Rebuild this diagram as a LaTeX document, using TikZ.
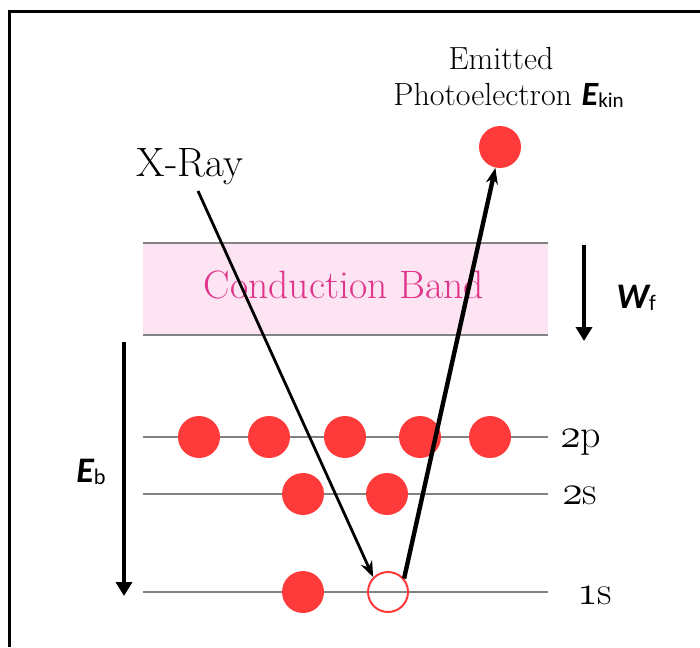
\documentclass[tikz,border=0pt]{standalone}
\usepackage{fontspec}
\usetikzlibrary{arrows.meta}
\newfontfamily\symfont{Carlito}
\definecolor{bandpink}{HTML}{FDE4F2}
\definecolor{bandtext}{HTML}{E0358B}
\definecolor{elred}{HTML}{FF3A3A}
\definecolor{levelgray}{HTML}{828282}
\newcommand{\osf}[1]{{\usefont{OML}{cmm}{m}{it}#1}}
\newcommand{\enlabel}[2]{{\symfont\bfseries\itshape #1}\raisebox{-0.08em}{\symfont\scalebox{0.62}{#2}}}

\begin{document}
\begin{tikzpicture}[
  x=0.5pt, y=-0.5pt,
  level/.style={draw=levelgray, line width=1pt},
  elec/.style={circle, fill=elred, minimum size=21pt, inner sep=0pt},
  holestyle/.style={circle, draw=elred, line width=1pt, minimum size=20pt, inner sep=0pt},
  lvl/.style={anchor=base west, inner sep=0pt, font=\fontsize{20}{20}\selectfont},
  txt/.style={anchor=base, inner sep=0pt},
  sym/.style={anchor=base west, inner sep=0pt},
  ray/.style={-{Stealth[length=8pt,width=6pt]}, line width=1.4pt},
  photo/.style={-{Stealth[length=8pt,width=6pt]}, line width=2.2pt},
  energy/.style={-{Triangle[length=7pt,width=8pt]}, line width=2pt}
]
\useasboundingbox (0,0) rectangle (700,647);
% frame
\draw[line width=1.5pt, line join=miter] (9,647) -- (9,12) -- (700,12);

% conduction band
\fill[bandpink] (143,243) rectangle (548,335);
\draw[level] (143,243) -- (548,243);
\draw[level] (143,335) -- (548,335);
\node[txt, text=bandtext, font=\fontsize{19.8}{19.8}\selectfont] (band) at (344,298) {Conduction Band};

% levels
\foreach \y in {437,494,592}
  \draw[level] (143,\y) -- (548,\y);
\node[lvl] (l2p) at (560,447) {\osf{2}p};
\node[lvl] (l2s) at (562,504) {\osf{2}s};
\node[lvl] (l1s) at (577,604) {\osf{1}s};

% electrons
\foreach \x [count=\i] in {199,269,345,420,490}
  \node[elec] (p\i) at (\x,437) {};
\node[elec] (s1) at (303,494) {};
\node[elec] (s2) at (387,494) {};
\node[elec] (k1) at (303,592) {};
\node[holestyle] (hole) at (388,592) {};
\node[elec] (emit) at (500,147) {};

% labels
\node[txt, font=\fontsize{20.5}{20.5}\selectfont] (xray) at (190,176) {X-Ray};
\node[txt, font=\fontsize{16}{16}\selectfont] (emitlbl) at (501,70) {Emitted};
\node[sym, font=\fontsize{16}{16}\selectfont] (photolbl) at (393,105)
  {Photoelectron \enlabel{\fontsize{17}{17}\selectfont E}{\fontsize{17}{17}\selectfont kin}};
\node[sym, font=\fontsize{18}{18}\selectfont] (wf) at (616,308) {\enlabel{W}{f}};
\node[sym, font=\fontsize{18}{18}\selectfont] (eb) at (76,482) {\enlabel{E}{b}};

% arrows
\coordinate (raystart) at (198,191);
\coordinate (wftop) at (584,245);
\coordinate (wfbot) at (584,341);
\coordinate (ebtop) at (124,342);
\coordinate (ebbot) at (124,596);
\draw[ray] (raystart) -- (hole.north west);
\draw[photo] (hole.40) -- (emit);
\draw[energy] (wftop) -- (wfbot);
\draw[energy] (ebtop) -- (ebbot);
\end{tikzpicture}
\end{document}
